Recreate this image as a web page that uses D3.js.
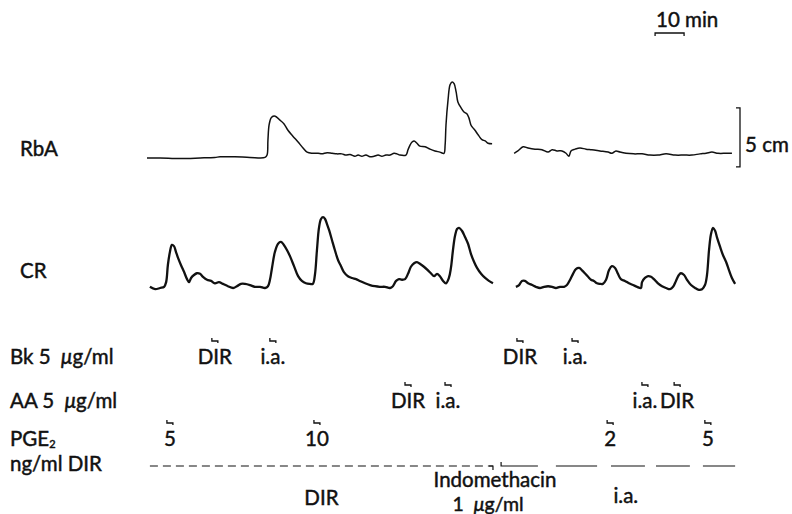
<!DOCTYPE html>
<html>
<head>
<meta charset="utf-8">
<script src="https://cdn.jsdelivr.net/npm/d3@7"></script>
<style>
body { margin: 0; background: #fff; }
text { font-family: Lato, "Open Sans", sans-serif; font-size: 20.5px; fill: #111; stroke: #111; stroke-width: 0.45; white-space: pre; }
</style>
</head>
<body>
<script>
var width = 792, height = 514;

// traces: [minutes, cm]
var rbaBefore = [[0,0],[4.5,0],[11.4,-0.05],[18.3,0],[23.4,0.05],[25.2,0.1],[30.3,0.1],[35.5,0.05],[40.7,0.05],
  [41.4,0.25],[41.7,1.5],[42.1,2.8],[42.8,3.4],[43.8,3.55],[44.8,3.45],[45.9,3.2],[47.2,2.9],[48.6,2.35],
  [50.3,1.85],[52.1,1.35],[53.8,0.85],[55.2,0.5],[56.9,0.4],[59.0,0.4],[60.3,0.35],[62.1,0.45],[63.8,0.4],
  [65.5,0.35],[67.2,0.35],[68.6,0.25],[70.0,0.3],[71.7,0.15],[72.8,0.25],[74.1,0.15],[75.5,0.25],[76.9,0.1],
  [78.3,0.15],[79.7,0.25],[81.0,0.15],[82.4,0.25],[83.8,0.25],[85.2,0.4],[86.2,0.35],[87.2,0.25],[89.3,0.25],
  [90.0,0.7],[90.7,1.1],[91.4,1.35],[92.1,1.45],[93.1,1.25],[94.1,1.0],[95.9,0.95],[97.6,0.75],[99.3,0.6],
  [101.0,0.5],[102.4,0.4],[102.8,1.1],[103.1,2.8],[103.8,4.9],[104.5,6.2],[105.2,6.45],[105.9,6.3],[106.6,5.6],
  [107.2,4.75],[108.3,4.25],[109.3,3.9],[110.3,3.75],[111.0,3.4],[111.7,2.8],[112.4,2.55],[113.1,2.35],
  [113.8,2.1],[114.5,1.85],[115.5,1.55],[116.6,1.45],[117.6,1.25],[119.0,1.2]];

var rbaAfter = [[126.6,0.4],[127.9,0.6],[129.7,0.95],[131.4,0.85],[133.8,0.75],[136.2,0.7],[138.3,0.5],
  [139.7,0.7],[141.4,0.6],[143.1,0.6],[144.5,0.4],[145.5,0.15],[146.2,0.6],[147.6,0.75],[149.3,0.85],
  [151.4,0.75],[153.4,0.7],[156.2,0.6],[159.0,0.5],[160.3,0.4],[161.7,0.6],[163.1,0.5],[165.2,0.4],
  [167.9,0.35],[170.7,0.35],[173.4,0.25],[176.2,0.25],[179.0,0.35],[182.1,0.25],[185.2,0.25],[187.9,0.25],
  [190.7,0.35],[192.8,0.4],[194.8,0.5],[196.9,0.4],[199.7,0.4],[201.7,0.4]];

var crBefore = [[1.0,0.1],[2.8,-0.1],[4.5,0],[5.9,0.1],[6.6,0.5],[7.2,1.95],[7.9,3.05],[8.6,3.65],[9.3,3.55],
  [10.0,3.05],[10.7,2.55],[11.7,1.95],[12.8,1.35],[13.8,0.75],[14.5,0.5],[15.2,0.85],[16.2,1.1],[17.2,1.25],
  [18.3,1.2],[19.3,0.95],[20.7,0.7],[22.1,0.6],[23.4,0.4],[24.8,0.5],[26.2,0.35],[27.9,0.15],[29.7,0],
  [31.0,0.15],[32.4,0.35],[33.8,0.35],[35.5,0.25],[37.2,0.1],[39.0,0.1],[40.7,0],[41.7,0.15],[42.4,0.7],
  [43.1,1.7],[44.1,3.05],[45.2,3.75],[46.2,3.9],[47.2,3.65],[48.3,3.2],[49.3,2.7],[50.7,1.85],[52.1,1.0],
  [53.4,0.6],[54.8,0.4],[56.2,0.35],[57.2,0.35],[57.9,1.1],[58.6,3.2],[59.3,5.1],[60.0,5.85],[60.7,6.0],
  [61.4,5.85],[62.1,5.4],[62.8,4.9],[63.8,4.05],[64.8,3.2],[65.9,2.35],[66.9,1.85],[67.9,1.35],[69.3,1.0],
  [70.7,0.85],[72.1,0.75],[73.4,0.6],[75.2,0.4],[76.9,0.25],[78.6,0.15],[80.3,0.1],[82.1,0.1],[83.8,0],
  [84.8,0.15],[85.9,0.6],[86.9,0.75],[87.9,0.7],[89.0,0.75],[90.0,1.2],[91.0,1.8],[92.1,2.1],[93.1,2.2],
  [94.1,2.05],[95.5,1.8],[96.9,1.5],[97.9,1.25],[99.0,1.0],[100.0,1.2],[101.0,1.0],[102.1,0.6],[103.1,0.4],
  [104.1,0.85],[104.8,1.7],[105.5,3.2],[106.2,4.4],[106.9,5.0],[107.6,5.1],[108.6,4.85],[109.7,4.3],
  [110.7,3.75],[111.7,2.9],[112.8,2.2],[113.8,1.7],[115.2,1.2],[116.6,0.85],[117.9,0.6],[119.3,0.4]];

var crAfter = [[127.2,0.1],[128.3,0.25],[129.3,0.6],[130.3,0.6],[131.4,0.4],[132.8,0.25],[134.1,0.1],
  [135.5,0],[136.9,0.1],[138.3,0.15],[139.7,0.1],[141.0,0],[142.4,0.1],[143.8,0.1],[144.8,0.25],[145.9,0.7],
  [146.9,1.2],[147.9,1.6],[149.0,1.7],[150.0,1.5],[151.0,1.25],[152.1,0.95],[153.1,0.7],[154.1,0.6],
  [155.2,0.4],[156.2,0.35],[157.2,0.35],[158.3,0.7],[159.3,1.5],[160.3,1.85],[161.4,1.7],[162.4,1.2],
  [163.4,0.75],[164.8,0.6],[166.2,0.4],[167.6,0.25],[169.0,0.1],[170.3,0],[170.7,0.5],[171.7,0.85],
  [172.8,1.0],[173.8,0.95],[174.8,0.75],[176.2,0.4],[177.6,0.15],[179.0,0],[180.3,-0.1],[181.4,0.1],
  [182.4,0.6],[183.4,1.1],[184.1,1.25],[185.2,1.1],[186.2,0.7],[187.6,0.25],[189.0,0],[190.3,-0.15],
  [191.4,-0.1],[192.4,0.25],[193.1,1.1],[193.8,3.2],[194.5,4.6],[195.2,5.1],[195.9,4.85],[196.6,4.25],
  [197.6,3.5],[198.6,2.8],[199.7,2.2],[200.7,1.5],[201.7,0.85],[202.8,0.35]];

// injections (minutes) and their labels
var bkTimes = [23.4, 43.4, 128.6, 147.6];
var bkLabels = ["DIR", "i.a.", "DIR", "i.a."];
var aaTimes = [90.0, 103.8, 171.7, 182.8];
var aaLabels = ["DIR", "i.a.", "i.a.", "DIR"];
var pgeTimes = [7.9, 58.6, 159.7, 193.4];
var pgeLabels = ["5", "10", "2", "5"];

// infusions (minutes)
var dirInfusion = [1.0, 119.3];
var indoInfusion = [[122.1, 134.8], [141.0, 155.2], [160.0, 171.7], [175.5, 187.2], [191.7, 202.8]];

var svg = d3.select("body").append("svg")
    .attr("width", width)
    .attr("height", height);

var x = d3.scaleLinear().domain([0, 200]).range([147, 727]);
var yRbA = d3.scaleLinear().domain([0, 5]).range([158, 99]);
var yCR = d3.scaleLinear().domain([0, 5]).range([288, 229]);

var lineRbA = d3.line()
    .x(function (d) { return x(d[0]); })
    .y(function (d) { return yRbA(d[1]); })
    .curve(d3.curveCatmullRom.alpha(0.5));

var lineCR = d3.line()
    .x(function (d) { return x(d[0]); })
    .y(function (d) { return yCR(d[1]); })
    .curve(d3.curveCatmullRom.alpha(0.5));

[rbaBefore, rbaAfter].forEach(function (seg) {
    svg.append("path").attr("d", lineRbA(seg))
        .attr("fill", "none").attr("stroke", "#111").attr("stroke-width", 1.5);
});
[crBefore, crAfter].forEach(function (seg) {
    svg.append("path").attr("d", lineCR(seg))
        .attr("fill", "none").attr("stroke", "#111").attr("stroke-width", 2.3);
});

// trace names
svg.append("text").attr("x", 20).attr("y", 156).text("RbA");
svg.append("text").attr("x", 20).attr("y", 278).text("CR");

// 10 min bar
var t0 = 175.2, barY = 33;
svg.append("path")
    .attr("d", "M" + x(t0) + "," + (barY + 3) + "V" + barY + "H" + x(t0 + 10) + "V" + (barY + 3))
    .attr("fill", "none").attr("stroke", "#111").attr("stroke-width", 1.3);
svg.append("text").attr("x", 656).attr("y", 27).text("10 min");

// 5 cm bar
var calX = 740, calBase = -0.75;
svg.append("path")
    .attr("d", "M" + (calX - 4) + "," + yRbA(calBase + 5) + "H" + calX + "V" + yRbA(calBase) + "H" + (calX - 4))
    .attr("fill", "none").attr("stroke", "#111").attr("stroke-width", 1.3);
svg.append("text").attr("x", 745).attr("y", 152).text("5 cm");

// left labels
var bk = svg.append("text").attr("x", 10).attr("y", 364).text("Bk 5  ");
bk.append("tspan").style("font-style", "italic").text("\u03bc");
bk.append("tspan").text("g/ml");
var aa = svg.append("text").attr("x", 10).attr("y", 408).text("AA 5  ");
aa.append("tspan").style("font-style", "italic").text("\u03bc");
aa.append("tspan").text("g/ml");
var pge = svg.append("text").attr("x", 10).attr("y", 446).text("PGE");
pge.append("tspan").attr("dy", 2).style("font-size", "11px").text("2");
svg.append("text").attr("x", 10).attr("y", 471).text("ng/ml DIR");

// injection rows
function drawRow(times, labels, baseY) {
    var g = svg.append("g");
    g.selectAll("text").data(times).enter().append("text")
        .attr("x", function (d) { return x(d); })
        .attr("y", baseY)
        .attr("text-anchor", "middle")
        .text(function (d, i) { return labels[i]; });
    g.selectAll("path").data(times).enter().append("path")
        .attr("d", function (d) {
            var hx = x(d), hy = baseY - 23;
            return "M" + (hx - 3) + "," + (hy - 3) + "V" + hy + "H" + (hx + 3) + "V" + (hy + 2);
        })
        .attr("fill", "none").attr("stroke", "#111").attr("stroke-width", 1.3);
}
drawRow(bkTimes, bkLabels, 364);
drawRow(aaTimes, aaLabels, 408);
drawRow(pgeTimes, pgeLabels, 446);

// infusion lines
var infY = 466;
svg.append("line")
    .attr("x1", x(dirInfusion[0])).attr("x2", x(dirInfusion[1]))
    .attr("y1", infY).attr("y2", infY)
    .attr("stroke", "#111").attr("stroke-width", 1.2).attr("stroke-dasharray", "8,5");
svg.append("path")
    .attr("d", "M" + (x(dirInfusion[1]) - 4) + "," + infY + "H" + x(dirInfusion[1]) + "V" + (infY + 4))
    .attr("fill", "none").attr("stroke", "#111").attr("stroke-width", 1.2);
svg.append("g").selectAll("path").data(indoInfusion).enter().append("path")
    .attr("d", function (d, i) {
        var p = "M" + x(d[0]) + "," + infY + "H" + x(d[1]);
        if (i === 0) p = "M" + x(d[0]) + "," + (infY - 4) + "V" + infY + "H" + x(d[1]);
        return p;
    })
    .attr("fill", "none").attr("stroke", "#111").attr("stroke-width", 1.2);

svg.append("text").attr("x", x(d3.mean(dirInfusion))).attr("y", 505)
    .attr("text-anchor", "middle").text("DIR");
svg.append("text").attr("x", 495).attr("y", 487).attr("text-anchor", "middle").text("Indomethacin");
var indo = svg.append("text").attr("x", 488).attr("y", 511)
    .attr("text-anchor", "middle").style("font-size", "19.5px").text("1  ");
indo.append("tspan").style("font-style", "italic").text("\u03bc");
indo.append("tspan").text("g/ml");
svg.append("text").attr("x", x(d3.mean(indoInfusion[1]) + 17)).attr("y", 503)
    .attr("text-anchor", "middle").text("i.a.");
</script>
</body>
</html>
